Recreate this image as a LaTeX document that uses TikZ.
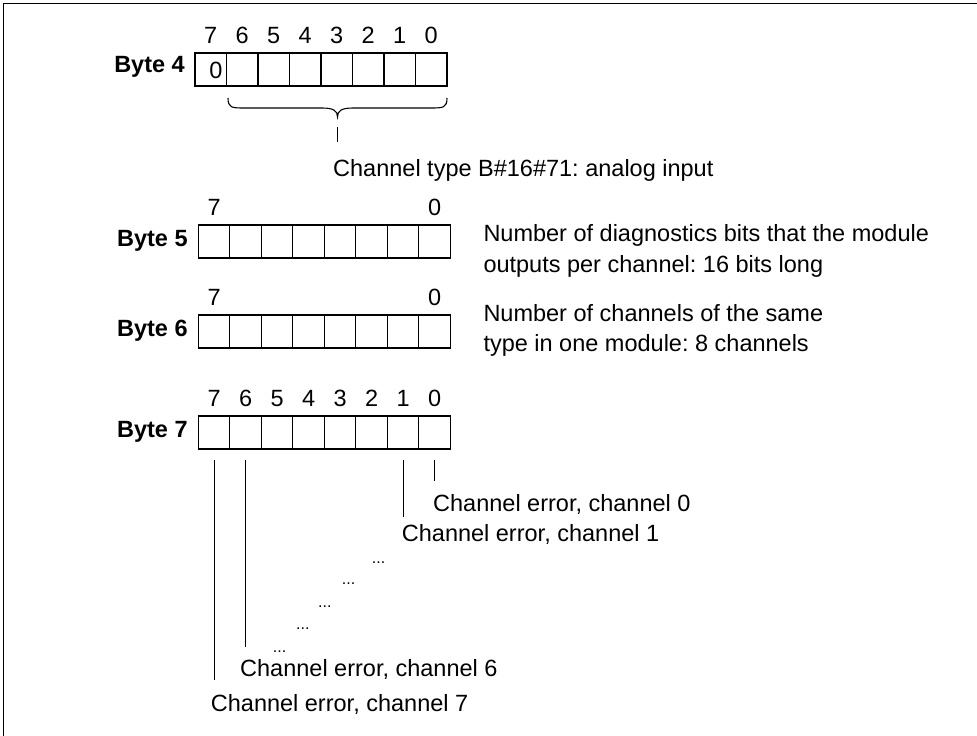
\documentclass[tikz,border=0pt]{standalone}
\usepackage{fontspec}
\setmainfont{Liberation Sans}
\frenchspacing
\begin{document}
\begin{tikzpicture}[x=1pt,y=-1pt,
  cell/.style={draw,line width=1.3pt,minimum width=31.5pt,minimum height=33pt,inner sep=0pt,outer sep=0pt,anchor=north west},
  txt/.style={font=\fontsize{23.5}{28}\selectfont,inner sep=0pt,anchor=base west},
  lbl/.style={font=\fontsize{23.5}{28}\selectfont\bfseries,inner sep=0pt,anchor=base east},
  dig/.style={font=\fontsize{23.5}{28}\selectfont,inner sep=0pt,anchor=base},
  dotsty/.style={font=\fontsize{16}{18}\selectfont,inner sep=0pt,anchor=base west},
  ln/.style={line width=1.1pt}]
\useasboundingbox (0,0) rectangle (977,736);
% frame (top and left edges visible)
\draw[line width=1.6pt] (3.5,736) -- (3.5,3.5) -- (977,3.5);

% ---- Byte 4 ----
\foreach \i [evaluate=\i as \b using int(7-\i)] in {0,...,7}
  \node[cell] (a\b) at ({195+31.5*\i},53) {};
\foreach \b in {7,...,0}
  \node[dig] (ad\b) at ([yshift=10pt]a\b.north) {\b};
\node[lbl] (l4) at ([xshift=-10pt,yshift=14pt]a7.south west) {Byte 4};
\node[dig] (z4) at (216,78.3) {0};
\coordinate (brL) at (228,98);
\coordinate (brR) at (447,98);
\coordinate (brT) at (337.5,117);
\draw[ln] (brL) .. controls (228,108) and (232,108) .. (245,108) -- (322,108)
  .. controls (334,108) and (337.5,111) .. (brT)
  .. controls (337.5,111) and (341,108) .. (353,108) -- (430,108)
  .. controls (443,108) and (447,108) .. (brR);
\coordinate (tk1) at (337.5,127);
\coordinate (tk2) at (337.5,142);
\draw[ln] (tk1) -- (tk2);
\node[txt] (t4) at (333,176.7) {Channel type B\#16\#71: analog input};

% ---- Byte 5 ----
\foreach \i [evaluate=\i as \b using int(7-\i)] in {0,...,7}
  \node[cell] (b\b) at ({198.3+31.5*\i},225) {};
\node[dig] (bd7) at ([yshift=10pt]b7.north) {7};
\node[dig] (bd0) at ([yshift=10pt]b0.north) {0};
\node[lbl] (l5) at ([xshift=-10.5pt,yshift=12pt]b7.south west) {Byte 5};
\node[txt] (t5a) at (483.3,241.7) {Number of diagnostics bits that the module};
\node[txt] (t5b) at (483.3,272) {outputs per channel: 16 bits long};

% ---- Byte 6 ----
\foreach \i [evaluate=\i as \b using int(7-\i)] in {0,...,7}
  \node[cell] (c\b) at ({198.3+31.5*\i},315) {};
\node[dig] (cd7) at ([yshift=10pt]c7.north) {7};
\node[dig] (cd0) at ([yshift=10pt]c0.north) {0};
\node[lbl] (l6) at ([xshift=-10.5pt,yshift=12pt]c7.south west) {Byte 6};
\node[txt] (t6a) at (483.3,321.7) {Number of channels of the same};
\node[txt] (t6b) at (483.3,351.7) {type in one module: 8 channels};

% ---- Byte 7 ----
\foreach \i [evaluate=\i as \b using int(7-\i)] in {0,...,7}
  \node[cell] (d\b) at ({198.3+31.5*\i},416) {};
\foreach \b in {7,...,0}
  \node[dig] (dd\b) at ([yshift=10pt]d\b.north) {\b};
\node[lbl] (l7) at ([xshift=-10.5pt,yshift=12pt]d7.south west) {Byte 7};

\coordinate (e7) at (214.05,680);
\coordinate (e6) at (245.55,647);
\coordinate (e1) at (403.05,517);
\coordinate (e0) at (434.55,481);
\draw[ln] ([yshift=-11pt]d7.south) -- (e7);
\draw[ln] ([yshift=-11pt]d6.south) -- (e6);
\draw[ln] ([yshift=-11pt]d1.south) -- (e1);
\draw[ln] ([yshift=-11pt]d0.south) -- (e0);

\node[txt] (ch0) at (433,511.7) {Channel error, channel 0};
\node[txt] (ch1) at (401.7,541.7) {Channel error, channel 1};
\node[dotsty] (dt1) at (371.7,563) {...};
\node[dotsty] (dt2) at (341.7,584.3) {...};
\node[dotsty] (dt3) at (318,607) {...};
\node[dotsty] (dt4) at (296,629.3) {...};
\node[dotsty] (dt5) at (272.7,652.3) {...};
\node[txt] (ch6) at (240,676.7) {Channel error, channel 6};
\node[txt] (ch7) at (210.7,711.7) {Channel error, channel 7};
\end{tikzpicture}
\end{document}
